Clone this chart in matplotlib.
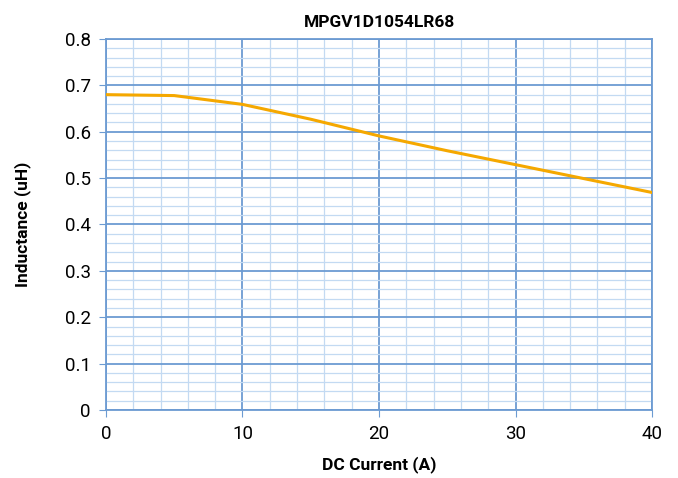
import matplotlib
matplotlib.use("Agg")
import matplotlib.pyplot as plt
from matplotlib.ticker import MultipleLocator

current = [0, 5, 10, 15, 20, 25, 30, 35, 40]
inductance = [0.68, 0.678, 0.659, 0.627, 0.591, 0.559, 0.529, 0.499, 0.469]
yticks = [0, 0.1, 0.2, 0.3, 0.4, 0.5, 0.6, 0.7, 0.8]
ylabels = ['0', '0.1', '0.2', '0.3', '0.4', '0.5', '0.6', '0.7', '0.8']

plt.rcParams['font.family'] = ['Roboto', 'DejaVu Sans']

fig = plt.figure(figsize=(6.78, 4.78), dpi=100)
ax = fig.add_axes([0.1563, 0.1423, 0.8054, 0.7761])

ax.plot(current, inductance, color='#f5a800', lw=2.2, zorder=3)

ax.set_xlim(0, 40)
ax.set_ylim(0, 0.8)
ax.set_xticks([0, 10, 20, 30, 40])
ax.xaxis.set_minor_locator(MultipleLocator(2))
ax.set_yticks(yticks, ylabels)
ax.yaxis.set_minor_locator(MultipleLocator(0.02))

ax.grid(which='major', color='#6c9bd2', lw=1.3)
ax.grid(which='minor', color='#c3daf2', lw=0.9)
ax.set_axisbelow(True)
for s in ax.spines.values():
    s.set_color('#6c9bd2')
    s.set_linewidth(1.3)

ax.tick_params(which='major', length=5, color='#6c9bd2', labelsize=13.5, pad=6)
ax.tick_params(which='minor', length=0)

ax.set_title('MPGV1D1054LR68', fontsize=12.5, fontweight='bold', pad=9)
ax.set_xlabel('DC Current (A)', fontsize=12.5, fontweight='bold', labelpad=9)
ax.set_ylabel('Inductance (uH)', fontsize=12.5, fontweight='bold', labelpad=24)

fig.savefig('out.png', dpi=100)
